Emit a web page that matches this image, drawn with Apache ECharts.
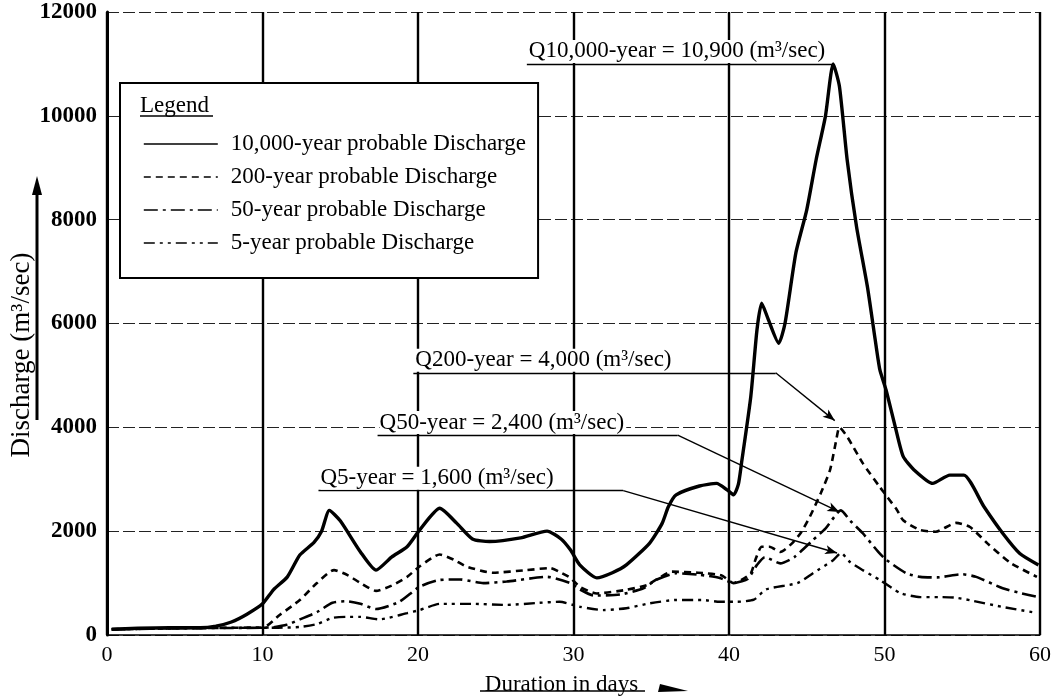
<!DOCTYPE html>
<html><head><meta charset="utf-8">
<script src="https://cdn.jsdelivr.net/npm/echarts@6/dist/echarts.min.js"></script>
<style>html,body{margin:0;padding:0;background:#fff}#c{width:1054px;height:696px}</style>
</head><body><div id="c"></div>
<script>
// ---- data (day, discharge m3/sec) ----
const seriesNames = ['10,000-year probable Discharge','200-year probable Discharge','50-year probable Discharge','5-year probable Discharge'];
const q10000 = [[0.3,110],[2,130],[4,140],[6,140],[7,170],[8,250],[9,400],[10,600],[10.7,870],[11.6,1120],[12.4,1540],[13.3,1780],[13.8,2000],[14.3,2400],[15.0,2200],[16.3,1600],[17.3,1250],[18.3,1500],[19.3,1700],[20.1,2020],[21.4,2440],[22.5,2150],[23.5,1850],[24.6,1800],[26.6,1870],[28.3,2000],[29.2,1850],[29.8,1640],[30.4,1350],[31.5,1100],[32.5,1200],[33.4,1350],[34.9,1770],[35.7,2150],[36.1,2470],[36.6,2700],[38.1,2870],[39.2,2920],[39.9,2790],[40.3,2700],[40.6,2900],[40.8,3300],[41.4,4590],[41.8,5880],[42.1,6390],[42.5,6100],[43.2,5620],[43.6,6000],[44.3,7360],[45.0,8190],[45.6,9150],[46.2,9990],[46.7,11000],[47.1,10570],[47.6,9150],[48.2,7870],[48.9,6710],[49.4,5690],[49.7,5110],[50.1,4720],[50.7,4000],[51.2,3440],[51.9,3180],[53.1,2920],[54.2,3080],[55.1,3080],[56.4,2470],[57.6,1960],[58.7,1570],[59.9,1350]];
const q200 = [[0.3,110],[4,130],[7,140],[10,140],[11.1,385],[12.4,675],[13.5,1000],[14.6,1250],[15.5,1150],[16.3,1000],[17.3,850],[18.3,950],[19.3,1120],[20.1,1320],[21.4,1550],[22.3,1450],[23.1,1320],[24.8,1200],[27.0,1250],[28.5,1290],[29.2,1200],[29.8,1100],[30.4,930],[31.5,800],[33.4,870],[34.7,960],[35.5,1100],[36.3,1220],[38.0,1200],[39.5,1150],[40.3,1000],[40.8,1060],[41.4,1190],[41.7,1450],[42.1,1700],[42.6,1700],[43.3,1600],[44.0,1750],[44.6,1960],[45.2,2280],[45.9,2730],[46.5,3180],[46.9,3760],[47.1,4000],[47.6,3820],[48.6,3310],[49.7,2850],[50.8,2410],[51.2,2210],[52.3,2020],[53.3,1990],[54.6,2160],[55.5,2080],[56.6,1770],[58.1,1390],[59.8,1120]];
const q50 = [[0.3,110],[5,130],[10,140],[10.7,150],[11.6,200],[12.4,300],[13.5,440],[14.5,620],[15.4,650],[16.3,600],[17.3,500],[18.8,640],[20.1,930],[21.4,1060],[22.7,1070],[24.2,1000],[25.7,1030],[28.3,1120],[29.8,1000],[30.4,880],[31.3,760],[33.0,780],[34.5,900],[35.3,1060],[36.6,1190],[38.1,1160],[39.4,1100],[40.3,1000],[41.2,1080],[41.8,1350],[42.3,1500],[43.3,1380],[44.2,1500],[45.4,1830],[46.2,2050],[47.2,2400],[47.8,2200],[48.6,1960],[49.6,1600],[50.1,1450],[51.4,1190],[52.3,1120],[53.4,1110],[55.0,1170],[55.9,1120],[57.6,900],[58.7,810],[59.9,730]];
const q5 = [[0.3,110],[5,130],[10,140],[11,140],[12.4,155],[13.5,210],[14.5,330],[15.4,350],[16.3,350],[17.5,300],[19.3,420],[20.1,480],[21.4,600],[23.5,600],[25.7,580],[27.8,620],[29.1,640],[30.4,545],[31.9,480],[33.4,515],[34.9,610],[36.6,675],[38.3,675],[39.4,640],[40.5,640],[41.6,680],[42.4,880],[44.4,1000],[45.4,1190],[46.7,1440],[47.2,1580],[47.8,1400],[48.6,1250],[49.7,1060],[51.0,810],[52.3,730],[53.5,730],[54.5,720],[55.5,670],[57.6,540],[59.5,440]];
// annotation leader lines: label start, bend, arrow tip (data units)
const annoTexts = ['Q10,000-year = 10,900 (m³/sec)','Q200-year = 4,000 (m³/sec)','Q50-year = 2,400 (m³/sec)','Q5-year = 1,600 (m³/sec)'];
const annoStart = [[27.0,11000],[19.7,5050],[17.4,3850],[13.6,2780]];
const annoBend  = [[46.7,11000],[43.0,5050],[36.7,3850],[33.2,2780]];
const annoTip   = [null,[46.8,4130],[47.1,2370],[46.95,1580]];
const xMin = 0, xMax = 60, xStep = 10;
const yMin = 0, yMax = 12000, yStep = 2000;

const FONT = '"Liberation Serif","Times New Roman",serif';
const chart = echarts.init(document.getElementById('c'), null, {renderer:'canvas'});

const mlData = [];
annoTexts.forEach((t,i)=>{
  mlData.push([
    {coord:annoStart[i], label:{show:true, position:'insideStartTop', formatter:t, distance:[2,1],
      color:'#000', fontFamily:FONT, fontSize:23, backgroundColor:'#fff', padding:[0,2,0,0]}},
    {coord:annoBend[i]}
  ]);
  if (annoTip[i]) {
    mlData.push([{coord:annoBend[i]}, {coord:annoTip[i], symbol:'arrow', symbolSize:[7,12]}]);
  }
});

const styles = [
  {width:3.4, type:'solid'},
  {width:2.6, type:[7,5]},
  {width:2.6, type:[14,5,3,5]},
  {width:2.4, type:[11,5,3,5,3,5]}
];
const datas = [q10000, q200, q50, q5];
const series = datas.map((d,i)=>({
  name: seriesNames[i], type:'line', data:d, symbol:'none', smooth:0.2,
  lineStyle:{color:'#000', width:styles[i].width, type:styles[i].type},
  itemStyle:{color:'#000'}, z: 3+i, animation:false
}));
series[3].markLine = {
  silent:true, animation:false, symbol:['none','none'],
  lineStyle:{color:'#000', width:1.4, type:'solid'},
  label:{show:false},
  data: mlData, z: 10
};

chart.setOption({
  animation:false,
  backgroundColor:'#fff',
  grid:{left:107, right:14, top:12, bottom:61, containLabel:false, outerBoundsMode:'none'},
  xAxis:{
    type:'value', min:xMin, max:xMax, interval:xStep,
    name:'Duration in days', nameLocation:'middle', nameGap:38,
    nameTextStyle:{color:'#000', fontFamily:FONT, fontSize:23, padding:[0,24,0,0]},
    axisLine:{show:true, onZero:false, lineStyle:{color:'#000', width:1.5}},
    axisTick:{show:false},
    axisLabel:{color:'#000', fontFamily:FONT, fontSize:22, margin:9},
    splitLine:{show:true, lineStyle:{color:'#000', width:2.4, type:'solid'}}
  },
  yAxis:{
    type:'value', min:yMin, max:yMax, interval:yStep,
    axisLine:{show:true, lineStyle:{color:'#000', width:3}},
    axisTick:{show:false},
    axisLabel:{color:'#000', fontFamily:FONT, fontSize:23, fontWeight:'bold', margin:10,
      formatter:(v)=>String(v)},
    splitLine:{show:true, lineStyle:{color:'#222', width:1, type:[12,4]}}
  },
  legend:{
    data: seriesNames, orient:'vertical', left:120, top:83,
    padding:[49,12,23,23], itemGap:9, itemWidth:74, itemHeight:14,
    backgroundColor:'#fff', borderColor:'#000', borderWidth:2, borderRadius:0,
    selectedMode:false,
    itemStyle:{color:'rgba(0,0,0,0)', borderWidth:0, opacity:0},
    lineStyle:{width:1.6},
    textStyle:{color:'#000', fontFamily:FONT, fontSize:23, lineHeight:24, padding:[0,0,0,8]}
  },
  graphic:[
    {type:'text', left:140, top:94, z:100, style:{text:'Legend', font:'23px '+FONT, fill:'#000'}},
    {type:'line', z:100, shape:{x1:140, y1:116, x2:213, y2:116}, style:{stroke:'#000', lineWidth:1.5}},
    {type:'text', x:22, y:355, rotation:Math.PI/2, z:100,
      style:{text:'Discharge (m³/sec)', font:'27px '+FONT, fill:'#000', align:'center', verticalAlign:'middle'}},
    {type:'line', z:100, shape:{x1:37, y1:420, x2:37, y2:192}, style:{stroke:'#000', lineWidth:3}},
    {type:'polygon', z:100, shape:{points:[[32,195],[42,195],[37,176]]}, style:{fill:'#000'}},
    {type:'line', z:100, shape:{x1:480, y1:691, x2:645, y2:691}, style:{stroke:'#000', lineWidth:1.5}},
    {type:'polygon', z:100, shape:{points:[[660,684],[688,691],[658,692]]}, style:{fill:'#000'}}
  ],
  series: series
});
</script></body></html>
